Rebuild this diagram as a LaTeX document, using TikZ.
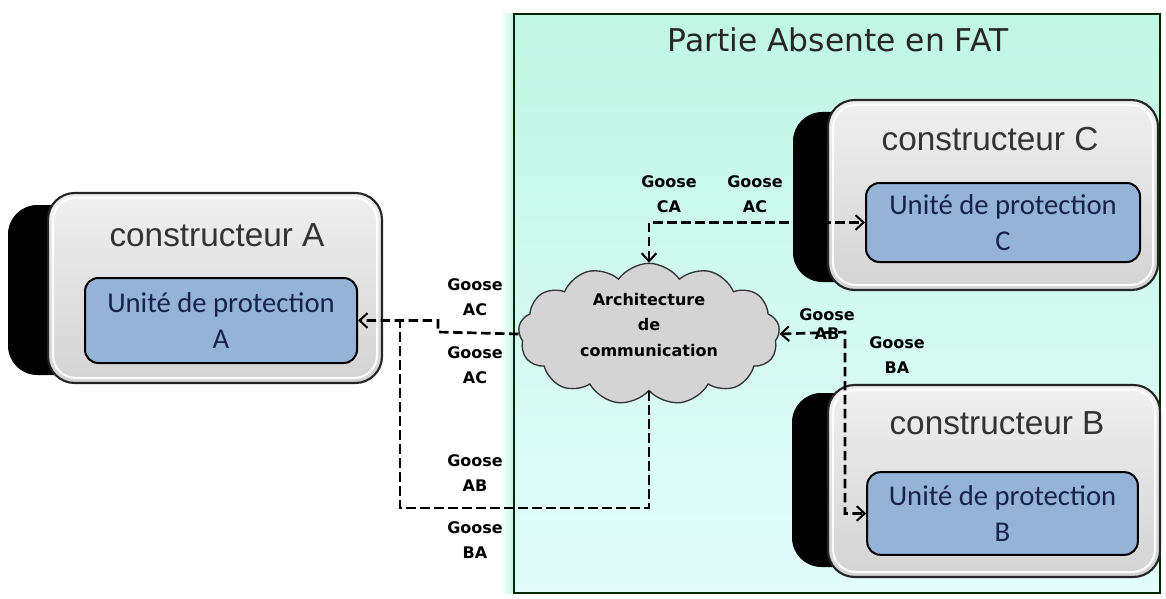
\documentclass[tikz,border=0pt]{standalone}
\usepackage{fontspec}
\setmainfont{Liberation Sans}
\newfontfamily\carl{Carlito}
\newfontfamily\dvs{DejaVu Sans}
\usetikzlibrary{shapes.symbols,arrows.meta}
\definecolor{tealtop}{RGB}{192,246,228}
\definecolor{tealbot}{RGB}{226,253,251}
\definecolor{unitblue}{RGB}{149,179,215}
\definecolor{unittext}{RGB}{22,35,70}
\begin{document}
\begin{tikzpicture}[x=0.75pt,y=-0.75pt,
  side/.style={fill=black, rounded corners=22pt},
  graybox/.style={draw=black!85, line width=1.6pt, rounded corners=20pt, top color=black!6, bottom color=black!17, inner sep=0pt},
  rim/.style={draw=white, line width=1.5pt, rounded corners=17pt},
  unitbox/.style={draw=black, line width=1.5pt, rounded corners=10pt, fill=unitblue, inner sep=0pt, align=center, font=\carl\fontsize{21.5}{27}\selectfont, text=unittext},
  ctitle/.style={font=\fontsize{25}{28}\selectfont, text=black!80},
  goose/.style={font=\dvs\bfseries\fontsize{12}{19}\selectfont, align=center},
  tip/.tip={Straight Barb[length=6pt,width=11pt,line width=1.5pt]},
  link/.style={line width=2pt, dash pattern=on 7pt off 3.5pt}
]
\useasboundingbox (0,0) rectangle (1166,599);
% teal region
\shade[left color=white, right color=tealtop] (500,14) rectangle (514,593);
\node[draw=black!85!green, line width=1.2pt, top color=tealtop, bottom color=tealbot, minimum width=484.5pt, minimum height=434.25pt, inner sep=0pt] (fat) at (837,303.5) {};
\node[font=\dvs\fontsize{23.5}{26}\selectfont, text=black!85] (title) at (838,40) {Partie Absente en FAT};

% constructeur A
\fill[side] (8,205) rectangle (110,375);
\node[graybox, minimum width=250.5pt, minimum height=142.5pt] (boxA) at (215,288) {};
\draw[rim] (53,198) rectangle (377,378);
\node[ctitle] (tA) at (217,235) {constructeur A};
\node[unitbox, minimum width=204pt, minimum height=63.75pt] (uA) at (221,320.5) {Unité de protection\\A};

% constructeur C
\fill[side] (793,112) rectangle (880,282);
\node[graybox, minimum width=247.5pt, minimum height=142.5pt] (boxC) at (993,195) {};
\draw[rim] (833,105) rectangle (1153,285);
\node[ctitle] (tC) at (990,139) {constructeur C};
\node[unitbox, minimum width=205.5pt, minimum height=59.25pt] (uC) at (1003,222.5) {Unité de protection\\C};

% constructeur B
\fill[side] (792,393) rectangle (880,567);
\node[graybox, minimum width=249pt, minimum height=144pt] (boxB) at (994,481) {};
\draw[rim] (833,390) rectangle (1155,572);
\node[ctitle] (tB) at (997,423) {constructeur B};
\node[unitbox, minimum width=203pt, minimum height=62pt] (uB) at (1002.5,513.5) {Unité de protection\\B};

% cloud
\node[cloud, cloud puffs=13, cloud puff arc=110, draw=black!80, fill=black!17, line width=1pt, minimum width=196pt, minimum height=106pt, inner sep=0pt] (cloud) at (649,334) {};
\node[goose] (cloudtxt) at (649,325) {Architecture\\de\\communication};

% connectors
\coordinate (jA) at (400,320.5);
\coordinate (kA1) at (438,332);
\coordinate (kA2) at (438,320.5);
\coordinate (bL) at (400,508);
\coordinate (jB) at (845,332);
\draw[link,-tip] (cloud.west) -- (kA1) -- (kA2) -- (uA.east);
\draw[link] (cloud.south) |- (bL) -- (jA);
\draw[link,tip-tip] (cloud.north) |- (uC.west);
\draw[link,tip-tip] (cloud.east) -- (jB) |- (uB.west);

% labels
\node[goose] (g1) at (475,297) {Goose\\AC};
\node[goose] (g2) at (475,365) {Goose\\AC};
\node[goose] (g3) at (475,473) {Goose\\AB};
\node[goose] (g4) at (475,540) {Goose\\BA};
\node[goose] (g5) at (669,194) {Goose\\CA};
\node[goose] (g6) at (755,194) {Goose\\AC};
\node[goose, font=\dvs\bfseries\fontsize{12}{14}\selectfont] (g7) at (827,324) {Goose\\AB};
\node[goose] (g8) at (897,355) {Goose\\BA};
\end{tikzpicture}
\end{document}
